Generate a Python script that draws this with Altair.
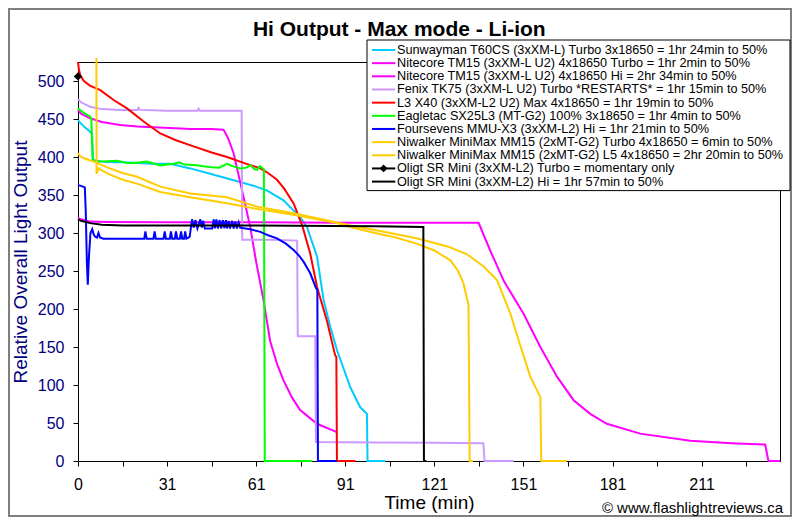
import altair as alt
import pandas as pd

# ---------------- data ----------------
NAMES = [
    "Sunwayman T60CS (3xXM-L) Turbo 3x18650 = 1hr 24min to 50%",
    "Nitecore TM15 (3xXM-L U2) 4x18650 Turbo = 1hr 2min to 50%",
    "Nitecore TM15 (3xXM-L U2) 4x18650 Hi = 2hr 34min to 50%",
    "Fenix TK75 (3xXM-L U2) Turbo *RESTARTS* = 1hr 15min to 50%",
    "L3 X40 (3xXM-L2 U2) Max 4x18650 = 1hr 19min to 50%",
    "Eagletac SX25L3 (MT-G2) 100% 3x18650 = 1hr 4min to 50%",
    "Foursevens MMU-X3 (3xXM-L2) Hi = 1hr 21min to 50%",
    "Niwalker MiniMax MM15 (2xMT-G2) Turbo 4x18650 = 6min to 50%",
    "Niwalker MiniMax MM15 (2xMT-G2) L5 4x18650 = 2hr 20min to 50%",
    "Oligt SR Mini (3xXM-L2) Turbo = momentary only",
    "Oligt SR Mini (3xXM-L2) Hi = 1hr 57min to 50%",
]
COLORS = ["#00CCFF", "#FF00FF", "#FF00FF", "#CC99FF", "#FF0000", "#00FF00",
          "#0000FF", "#FFCC00", "#FFCC00", "#000000", "#000000"]

sunwayman = [(0, 448), (1, 444), (2, 440), (3.6, 435), (4.7, 431), (5.1, 397), (6, 395),
             (8, 394), (12, 393), (15, 393), (20, 392), (25, 391), (31, 391), (37.8, 385),
             (44.5, 378), (50, 372), (54.6, 367), (60, 361), (63.6, 356), (69.2, 343),
             (74.8, 321), (77.1, 308), (80.5, 269), (82.7, 212), (85, 176), (87.2, 146),
             (91.7, 97), (95, 71), (97.3, 62), (97.5, 0), (103.5, 0)]

nitecore_turbo = [(0, 462), (1, 457), (4.1, 451), (8, 446), (14.2, 442), (20, 440), (25.5, 439),
                  (31, 438), (37.8, 437), (45, 437), (49, 436), (50.5, 425), (52.4, 405),
                  (55.2, 357), (58, 308), (60, 262), (62.5, 211), (64.7, 158), (67, 128),
                  (69.2, 106), (72, 84), (74.8, 67), (80.5, 49), (87.2, 38)]

nitecore_hi = [(0, 320), (1, 318), (2, 317), (4, 315), (10, 314.5), (30, 314), (60, 314),
               (90, 313.5), (120, 313.5), (134.9, 313.5), (138.8, 277), (143.5, 236),
               (150, 194), (155.7, 150), (161.3, 111), (166.9, 80), (172.5, 62), (178.1, 49),
               (189.3, 36), (206.2, 26.5), (220, 23.5), (231.4, 21.6), (232.5, 0), (236.4, 0)]

fenix = [(0, 476), (1, 472), (4.1, 466), (8, 463), (14.2, 462), (20, 462), (20.4, 464.5),
         (20.8, 462), (30, 461), (40.2, 461), (40.6, 463.5), (41, 461), (50, 461), (55.1, 461),
         (55.3, 291), (65, 291), (73.8, 290), (74, 164), (79.9, 164), (80.1, 25), (100, 24.5),
         (120, 24), (136.5, 23.5), (136.9, 0), (146.7, 0)]

l3 = [(0, 525), (0.3, 515), (0.8, 507), (2, 500), (4, 494), (7.5, 488), (12, 475), (16.5, 464),
      (22, 447), (27.7, 431), (33, 422), (38.9, 414), (45, 406), (50.2, 400), (56, 392),
      (61.4, 385), (64, 379), (67, 370), (69.5, 358), (72.6, 339), (75.5, 310), (78.2, 273),
      (80.5, 229), (83.8, 185), (86.6, 139), (87.0, 137), (87.2, 0), (93.4, 0)]

eagletac = [(0, 464), (2, 458), (4.1, 453), (4.5, 450), (4.9, 396), (6, 394), (8.6, 394),
            (13.1, 395), (16.5, 392), (19, 392), (23.2, 394), (27.7, 389), (30, 390),
            (32.2, 391), (34, 393), (36, 390), (40, 389), (44, 387), (47.5, 386), (50.2, 391),
            (52, 388), (54.6, 385), (56.8, 386), (58, 389), (59.4, 384), (60.3, 383),
            (61.2, 388), (62.6, 384), (62.9, 0), (78.8, 0)]

foursevens = [(0, 363), (1, 362), (2.3, 360), (2.6, 330), (3.0, 260), (3.3, 232), (3.7, 270),
              (4.2, 300), (4.8, 305), (5.3, 298), (5.8, 295), (6.4, 294), (6.9, 300), (7.4, 294),
              (8.5, 292.5), (22.3, 292.5), (22.7, 302), (23.1, 292.5), (25.4, 292.5),
              (25.8, 302), (26.2, 292.5), (28.8, 292.5), (29.2, 302), (29.6, 292.5),
              (30.9, 292.5), (31.3, 302), (31.7, 292.5), (32.6, 292.5), (33.0, 302),
              (33.4, 292.5), (34.3, 292.5), (34.7, 302), (35.1, 292.5), (35.7, 292.5),
              (36.1, 302), (36.5, 292.5), (37.6, 295), (38.4, 318), (39.0, 307), (39.5, 317),
              (40.2, 306), (41.2, 318), (41.7, 307), (42.1, 316), (42.7, 306), (45.2, 306),
              (45.7, 318), (46.1, 306), (46.6, 318), (47.1, 306), (47.7, 317), (48.2, 306),
              (48.8, 317), (49.3, 306), (49.8, 317), (50.2, 306), (50.7, 316), (51.2, 306),
              (51.9, 316), (52.4, 306), (53.0, 315), (53.5, 306), (54.1, 314), (54.6, 307),
              (58, 305), (61.4, 301.5), (64, 297), (67, 293), (70, 286), (72.6, 277.5),
              (74.5, 270), (76, 262), (78.2, 247), (80.2, 227), (80.6, 225), (80.8, 0),
              (87.2, 0)]

niwalker_turbo = [(6.2, 530), (6.25, 378), (6.9, 385), (10, 378), (15, 370), (19.9, 365),
                  (27.7, 354), (37.8, 347), (50.2, 339), (60, 332), (72.6, 324), (87.2, 313),
                  (91.7, 308), (100, 300), (107, 294), (114, 286), (120, 277), (125.4, 264),
                  (128, 250), (129.8, 234), (131.5, 205), (131.9, 0), (133, 0)]

niwalker_l5 = [(0, 405), (1, 400), (3, 397), (5.3, 394), (10, 386), (15, 379), (19.9, 374),
               (27.7, 361), (37.8, 352), (50.2, 347), (60, 335), (72.6, 326), (87.2, 314),
               (91.7, 310), (100, 304), (114, 293), (124.7, 282), (131, 272), (136.6, 256),
               (141.1, 238), (145.6, 194), (148.7, 155), (152.3, 111), (155.7, 84),
               (156.0, 0), (164.6, 0)]

olight_turbo = [(0, 506)]

olight_hi = [(0, 318), (1, 316), (4.1, 313), (8, 311), (15, 310), (60, 310), (100, 309),
             (116.3, 308), (116.5, 0), (117.3, 0)]

LINE_SERIES = [sunwayman, nitecore_turbo, nitecore_hi, fenix, l3, eagletac, foursevens,
               niwalker_turbo, niwalker_l5, None, olight_hi]
MARKER_SERIES = [False] * 9 + [True, False]

X_TICKS = [0, 15, 30, 45, 60, 75, 90, 105, 120, 135, 150, 165, 180, 195, 210, 225]
X_LABELS = ["0", "31", "61", "91", "121", "151", "181", "211"]
Y_TICKS = [0, 50, 100, 150, 200, 250, 300, 350, 400, 450, 500]

TITLE = "Hi Output - Max mode - Li-ion"
CREDIT = "\u00a9 www.flashlightreviews.ca"

# ---------------- tables ----------------
rows = []
for name, pts in zip(NAMES, LINE_SERIES):
    if pts is None:
        continue
    for i, (t, v) in enumerate(pts):
        rows.append({"series": name, "t": t, "v": v, "idx": i})
df = pd.DataFrame(rows)
turbo_df = pd.DataFrame([{"series": NAMES[9], "t": t, "v": v} for t, v in olight_turbo])
leg_df = pd.DataFrame({"series": NAMES, "row": list(range(len(NAMES))),
                       "marker": MARKER_SERIES})

FONT = "Liberation Sans"
NAVY = "#000080"
W, H = 702, 399

label_expr = ("datum.value % 30 == 0 ? " + str(X_LABELS).replace(" ", "") +
              "[datum.value / 30] : ''")

x_scale = alt.Scale(domain=[0, 236.4], nice=False, zero=False)
y_scale = alt.Scale(domain=[0, 525], nice=False)

x_enc = alt.X("t:Q", scale=x_scale,
              axis=alt.Axis(values=X_TICKS, labelExpr=label_expr, title="Time (min)",
                            labelPadding=10, titlePadding=1, labelColor="black",
                            titleColor="black", grid=False, labelFlush=False))
y_enc = alt.Y("v:Q", scale=y_scale,
              axis=alt.Axis(values=Y_TICKS, title="Relative Overall Light Output",
                            labelColor=NAVY, titleColor=NAVY, labelPadding=9,
                            titlePadding=7, grid=False, labelFlush=False))

color_scale = alt.Scale(domain=NAMES, range=COLORS)

lines = alt.Chart(df).mark_line(strokeWidth=2, clip=False).encode(
    x=x_enc,
    y=y_enc,
    color=alt.Color("series:N", scale=color_scale, legend=None),
    order=alt.Order("idx:Q"),
)

turbo_pt = alt.Chart(turbo_df).mark_point(shape="diamond", filled=True, size=70,
                                          color="black", opacity=1).encode(
    x=alt.X("t:Q", scale=x_scale),
    y=alt.Y("v:Q", scale=y_scale, axis=None))

# ---------- legend (rows placed by a point scale) ----------
row_y = alt.Y("row:O", scale=alt.Scale(type="point", domain=list(range(len(NAMES))),
                                       range=[-12, 119.6], padding=0), axis=None)

base = pd.DataFrame({"a": [0]})
legend_box = alt.Chart(base).mark_rect(fill="white", stroke="black", strokeWidth=1).encode(
    x=alt.value(289), x2=alt.value(712), y=alt.value(-22), y2=alt.value(128.6))

legend_lines = alt.Chart(leg_df).mark_rule(strokeWidth=2).encode(
    x=alt.value(294), x2=alt.value(317.3), y=row_y,
    color=alt.Color("series:N", scale=color_scale, legend=None))

legend_marks = alt.Chart(leg_df).transform_filter("datum.marker").mark_point(
    shape="diamond", filled=True, size=60, color="black", opacity=1).encode(
    x=alt.value(305.6), y=row_y)

legend_text = alt.Chart(leg_df).mark_text(
    font=FONT, fontSize=12.7, color="black", align="left", baseline="middle").encode(
    x=alt.value(319), y=row_y, text="series:N")

frame = alt.Chart(base).mark_rect(fillOpacity=0, stroke="#7f7f7f", strokeWidth=2).encode(
    x=alt.value(-69), x2=alt.value(W + 11), y=alt.value(-53), y2=alt.value(H + 55))

title_txt = alt.Chart(pd.DataFrame({"txt": [TITLE]})).mark_text(
    font=FONT, fontSize=21, fontWeight="bold", color="black", align="center",
    baseline="alphabetic").encode(x=alt.value(321.3), y=alt.value(-26), text="txt:N")

credit_txt = alt.Chart(pd.DataFrame({"txt": [CREDIT]})).mark_text(
    font=FONT, fontSize=15, color="black", align="right", baseline="middle").encode(
    x=alt.value(705), y=alt.value(445.5), text="txt:N")

chart = alt.layer(
    frame, lines, turbo_pt, legend_box, legend_lines, legend_marks, legend_text,
    title_txt, credit_txt,
).resolve_scale(y="independent").resolve_axis(y="independent").properties(
    width=W, height=H,
    autosize=alt.AutoSizeParams(type="none"),
    padding={"left": 70, "top": 54, "right": 12, "bottom": 56},
    background="white",
).configure_view(stroke="black", strokeWidth=1).configure_axis(
    domainColor="black", domainWidth=1, tickColor="black", tickSize=5, tickWidth=1,
    labelFont=FONT, labelFontSize=16, titleFont=FONT, titleFontSize=19,
    titleFontWeight="normal",
)

chart.save("out.html", embed_options={"renderer": "svg", "actions": False})
